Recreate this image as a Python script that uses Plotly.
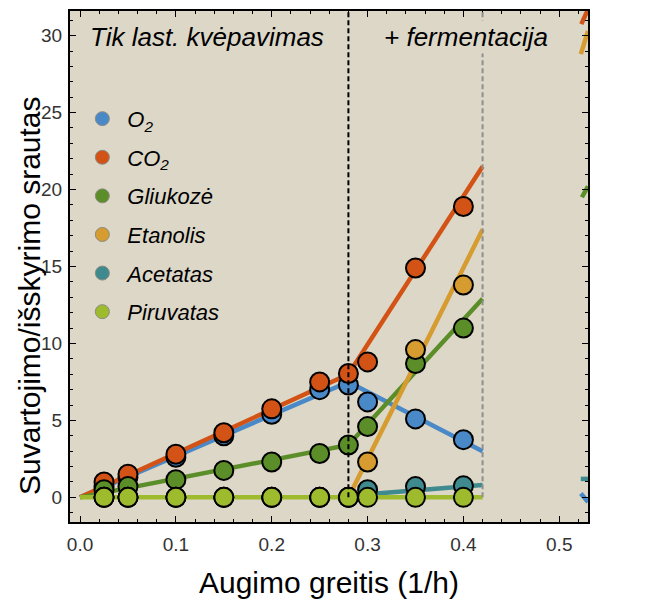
import plotly.graph_objects as go

# Measured exchange fluxes vs. growth rate
rate = [0.025, 0.05, 0.1, 0.15, 0.2, 0.25, 0.28, 0.3, 0.35, 0.4]
o2 = [0.7, 1.3, 2.6, 4.0, 5.4, 7.0, 7.3, 6.2, 5.1, 3.75]
co2 = [1.0, 1.5, 2.8, 4.2, 5.75, 7.5, 8.05, 8.8, 14.9, 18.9]
glucose = [0.5, 0.7, 1.15, 1.75, 2.3, 2.85, 3.4, 4.6, 8.7, 11.0]
ethanol = [0, 0, 0, 0, 0, 0, 0, 2.3, 9.6, 13.8]
acetate = [0, 0, 0, 0, 0, 0, 0, 0.5, 0.7, 0.75]
pyruvate = [0, 0, 0, 0, 0, 0, 0, 0, 0, 0]

# Model predictions (piecewise linear, None separates regimes)
o2_fit_x = [0, 0.28, 0.42, None, 0.5225, 0.53]
o2_fit_y = [0, 7.5, 3.0, None, 0.25, -0.3]
co2_fit_x = [0, 0.28, 0.42, None, 0.523, 0.53]
co2_fit_y = [0, 8.0, 21.5, None, 30.75, 31.7]
glucose_fit_x = [0, 0.28, 0.42, None, 0.5236, 0.53]
glucose_fit_y = [0, 3.4, 12.9, None, 19.5, 20.2]
ethanol_fit_x = [0.28, 0.42, None, 0.5225, 0.53]
ethanol_fit_y = [0, 17.4, None, 28.8, 30.3]
acetate_fit_x = [0.28, 0.42, None, 0.5225, 0.53]
acetate_fit_y = [0.1, 0.8, None, 1.2, 1.2]
pyruvate_fit_x = [0, 0.42]
pyruvate_fit_y = [0, 0]

regime_breaks = [0.28, 0.42]
x_ticks = [0.0, 0.1, 0.2, 0.3, 0.4, 0.5]
y_ticks = [0, 5, 10, 15, 20, 25, 30]

series = [
    ("O<sub>2</sub>", o2, o2_fit_x, o2_fit_y, "#4a89c8"),
    ("CO<sub>2</sub>", co2, co2_fit_x, co2_fit_y, "#d35316"),
    ("Gliukozė", glucose, glucose_fit_x, glucose_fit_y, "#5b8e28"),
    ("Etanolis", ethanol, ethanol_fit_x, ethanol_fit_y, "#d69c30"),
    ("Acetatas", acetate, acetate_fit_x, acetate_fit_y, "#3e8a8f"),
    ("Piruvatas", pyruvate, pyruvate_fit_x, pyruvate_fit_y, "#9dbb2d"),
]

BG = "#dcd7c7"
FONT = "Liberation Sans, Arial, sans-serif"

fig = go.Figure()

# model lines underneath
for name, vals, fx, fy, col in series:
    fig.add_trace(go.Scatter(x=fx, y=fy, mode="lines", line=dict(color=col, width=4.5),
                             showlegend=False, hoverinfo="skip", cliponaxis=True))

# measured points
for name, vals, fx, fy, col in series:
    fig.add_trace(go.Scatter(x=rate, y=vals, mode="markers",
                             marker=dict(size=19, color=col, line=dict(color="black", width=2)),
                             showlegend=False, cliponaxis=True))

# legend entries
for i, (name, vals, fx, fy, col) in enumerate(series):
    fig.add_trace(go.Scatter(x=[None], y=[None], mode="markers", name=name,
                             legendgroup=f"g{i}",
                             marker=dict(size=14, color=col, line=dict(color="#8a8a80", width=1))))

for xb, col in zip(regime_breaks, ["black", "#8f8f8f"]):
    fig.add_shape(type="line", xref="x", yref="y", x0=xb, x1=xb, y0=0, y1=32,
                  line=dict(color=col, width=2, dash="5px,3px"), layer="above")

fig.add_annotation(x=0.132, y=29.9, xref="x", yref="y", text="Tik last. kvėpavimas",
                   showarrow=False, font=dict(family=FONT, size=26, color="black", style="italic"))
fig.add_annotation(x=0.403, y=29.9, xref="x", yref="y", text="+ fermentacija",
                   showarrow=False, bgcolor=BG,
                   font=dict(family=FONT, size=26, color="black", style="italic"))

# y-axis title, placed slightly below the vertical centre of the frame
fig.add_annotation(x=-0.0772, y=0.4425, xref="paper", yref="paper",
                   text="Suvartojimo/išskyrimo srautas", textangle=-90,
                   xanchor="center", yanchor="middle", showarrow=False,
                   font=dict(family=FONT, size=30, color="black"))

axis_common = dict(showline=True, linecolor="black", linewidth=2, mirror="allticks",
                   ticks="inside", ticklen=6, tickwidth=1.3, tickcolor="black",
                   showgrid=False, zeroline=False,
                   tickfont=dict(family=FONT, size=19, color="#333333"))

fig.update_xaxes(range=[-0.0105, 0.5300], tickvals=x_ticks,
                 ticktext=[f"{v:.1f}" for v in x_ticks], ticklabelstandoff=4,
                 minor=dict(dtick=0.02, ticks="inside", ticklen=3, tickcolor="black", tickwidth=1),
                 title=dict(text="Augimo greitis (1/h)", font=dict(family=FONT, size=30, color="black"),
                            standoff=18),
                 **axis_common)
fig.update_yaxes(range=[-1.6, 31.6], tickvals=y_ticks, ticklabelstandoff=2,
                 minor=dict(dtick=1, ticks="inside", ticklen=3, tickcolor="black", tickwidth=1),
                 **axis_common)

fig.update_layout(
    width=650, height=610,
    margin=dict(l=70, r=62, t=9, b=88),
    paper_bgcolor="white", plot_bgcolor=BG,
    legend=dict(x=0.0142, y=0.83, xanchor="left", yanchor="top", bgcolor="rgba(0,0,0,0)",
                tracegroupgap=7, itemwidth=40,
                font=dict(family=FONT, size=22, color="black", style="italic")),
)

fig.write_html("out.html")
